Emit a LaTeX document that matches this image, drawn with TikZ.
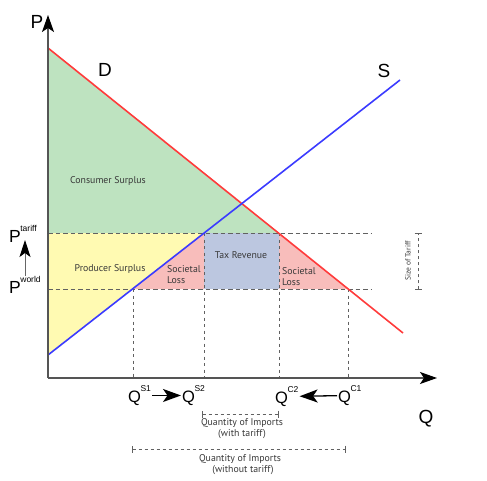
\documentclass[tikz,border=0pt]{standalone}
\usepackage{fontspec}
\setmainfont{Liberation Sans}
\newfontfamily\labelfont{PT Sans}
\usetikzlibrary{arrows.meta, calc, positioning}
\definecolor{konsum}{HTML}{BEE3C0}
\definecolor{produz}{HTML}{FFFAB2}
\definecolor{verlust}{HTML}{F8BDBB}
\definecolor{steuer}{HTML}{BCC7E0}
\definecolor{nachfrage}{HTML}{FF3B3B}
\definecolor{angebot}{HTML}{3B3BFF}
\definecolor{achse}{HTML}{555555}
\newcommand{\hoch}[1]{\kern-0.5pt\raisebox{0.62em}{\fontsize{8.5}{8.5}\selectfont #1}}

\begin{document}
\begin{tikzpicture}[x=1pt, y=-1pt,
        axis/.style={line width=1.3pt, achse, -{Stealth[length=17pt, width=12pt, inset=4pt, black]}},
        guide/.style={line width=0.9pt, black!62, dash pattern=on 4.5pt off 3pt},
        drop/.style={line width=0.9pt, black!62, dash pattern=on 3pt off 3.5pt},
        curve/.style={line width=1.6pt},
        big/.style={font=\fontsize{19}{20}\selectfont},
        qlab/.style={font=\fontsize{16.5}{18}\selectfont, inner sep=0pt, anchor=base west},
        plab/.style={font=\fontsize{17.5}{18}\selectfont, inner sep=0pt, anchor=base west},
        lbl/.style={font=\labelfont\fontsize{9.8}{11}\selectfont, text=black!78, inner sep=1pt},
        qarr/.style={line width=1.3pt, -{Stealth[length=18pt, width=13pt, inset=4.5pt]}, shorten <=1pt, shorten >=1pt},
        parr/.style={line width=0.9pt, black!60, -{Stealth[length=17pt, width=11pt, inset=4pt, black]}},
        span/.style={black!62, line width=0.8pt, dash pattern=on 3.5pt off 2.5pt, {Bar[width=7pt]}-{Bar[width=7pt]}}
      ]
      \useasboundingbox (0,0) rectangle (487,481);

      % axes and curve points
      \coordinate (o)    at (48,378);
      \coordinate (ptop) at (48,15);
      \coordinate (qend) at (437,378);
      \coordinate (dtop) at (48,48);
      \coordinate (dend) at (403,333);
      \coordinate (sbot) at (48,355);
      \coordinate (stop) at (400,80);
      \coordinate (pt)   at (48,233);
      \coordinate (pw)   at (48,289);
      \coordinate (ptend) at (372,233);
      \coordinate (pwend) at (372,289);
      \coordinate (s1)   at (133,289);
      \coordinate (s2)   at (204,233);
      \coordinate (c2)   at (279,233);
      \coordinate (c1)   at (348,289);

      % surplus areas
      \fill[konsum] (dtop) -- (c2) -- (pt) -- cycle;
      \fill[produz] (pt) -- (s2) -- (sbot) -- cycle;
      \fill[verlust] (s1) -- (s2) -- (s2 |- pw) -- cycle;
      \fill[steuer] (s2) rectangle (c2 |- pw);
      \fill[verlust] (c2) -- (c1) -- (c2 |- pw) -- cycle;

      % price lines and drop lines
      \draw[guide] (pt) -- (ptend);
      \draw[guide] (pw) -- (pwend);
      \draw[drop] (s1) -- (s1 |- o);
      \draw[drop] (s2) -- (s2 |- o);
      \draw[drop] (c2) -- (c2 |- o);
      \draw[drop] (c1) -- (c1 |- o);

      \draw[curve, nachfrage] (dtop) -- (dend);
      \draw[curve, angebot] (sbot) -- (stop);

      \draw[axis] (o) -- (ptop);
      \draw[axis] (o) -- (qend);

      \node[big] (plbl) at (37,22)   {P};
      \node[big] (qlbl) at (426,419) {Q};
      \node[big] (dlbl) at (105,70)  {D};
      \node[big] (slbl) at (384,71)  {S};

      \node[lbl] (cslbl)  at (108,181) {Consumer Surplus};
      \node[lbl] (pslbl)  at (110,269) {Producer Surplus};
      \node[lbl, align=left, anchor=west] (loss1) at (166,275) {Societal\\Loss};
      \node[lbl] (taxlbl) at (241,255) {Tax Revenue};
      \node[lbl, align=left, anchor=west] (loss2) at (281,277) {Societal\\Loss};

      % world price to tariff price
      \node[plab] (ptar) at (9,242) {P\hoch{tariff}};
      \node[plab] (pwor) at (9,293) {P\hoch{world}};
      \coordinate (pa) at (25,276);
      \coordinate (pb) at (25,240);
      \draw[parr] (pa) -- (pb);

      % quantities
      \node[qlab] (qs1) at (128,402) {Q\hoch{S1}};
      \node[qlab] (qs2) at (182,402) {Q\hoch{S2}};
      \node[qlab] (qc2) at (275,403) {Q\hoch{C2}};
      \node[qlab] (qc1) at (338,402) {Q\hoch{C1}};
      \draw[qarr] (qs1) -- (qs2);
      \draw[qarr] (qc1) -- (qc2);

      % import spans
      \coordinate (w1) at (202,414);
      \coordinate (w2) at (279,414);
      \coordinate (n1) at (132,449);
      \coordinate (n2) at (346,449);
      \draw[span] (w1) -- (w2);
      \draw[span] (n1) -- (n2);
      \node[lbl, align=center] (withlbl) at (242,429) {Quantity of Imports\\(with tariff)};
      \node[lbl, align=center] (wolbl) at (240,465) {Quantity of Imports\\\hspace*{6pt}(without tariff)};

      % tariff size
      \coordinate (t1) at (418,290);
      \coordinate (t2) at (418,233);
      \draw[span] (t1) -- (t2);
      \node[lbl, font=\labelfont\fontsize{7.5}{8}\selectfont, rotate=90] (tarlbl) at (408,261) {Size of Tariff};
    \end{tikzpicture}
\end{document}
